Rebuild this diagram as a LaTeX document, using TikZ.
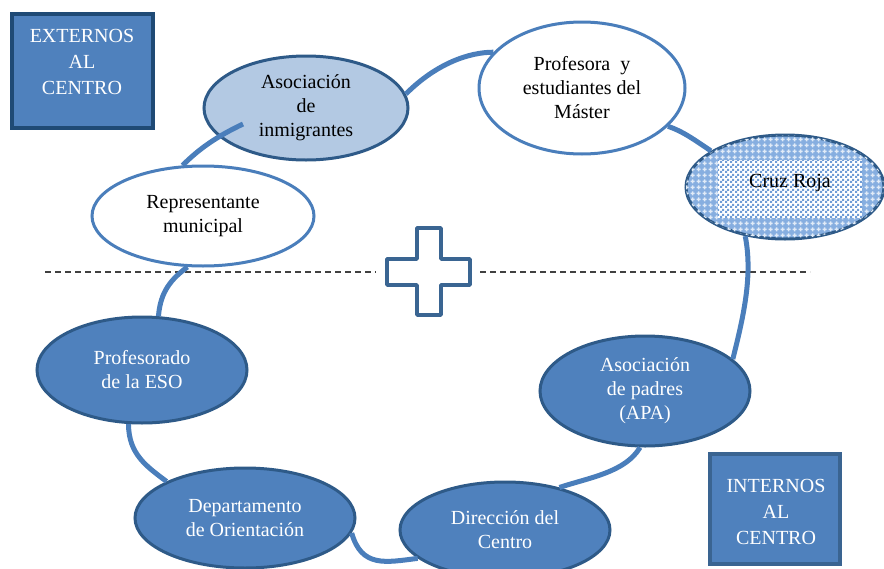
\documentclass[tikz,border=0pt]{standalone}
\usepackage{fontspec}
\setmainfont{Liberation Serif}
\usetikzlibrary{shapes.geometric,patterns,patterns.meta,calc}
\definecolor{midblue}{HTML}{4F81BD}
\definecolor{darkblue}{HTML}{2E5A88}
\definecolor{linkblue}{HTML}{4A7EBB}
\definecolor{lightblue}{HTML}{B3C9E3}
\definecolor{extborder}{HTML}{1F4A75}
\definecolor{intborder}{HTML}{3A6491}
\definecolor{crossblue}{HTML}{3A6592}
\definecolor{patblue}{HTML}{86AEE0}
\definecolor{checkblue}{HTML}{6F9CD6}
\definecolor{dashgray}{HTML}{404040}
\tikzdeclarepattern{
  name=smallcheck, type=uncolored,
  bounding box={(0pt,0pt) and (5pt,5pt)},
  tile size={(5pt,5pt)},
  code={\fill (0pt,0pt) rectangle (2.5pt,2.5pt); \fill (2.5pt,2.5pt) rectangle (5pt,5pt);}
}
\tikzdeclarepattern{
  name=plusdots, type=uncolored,
  bounding box={(0pt,0pt) and (6pt,6pt)},
  tile size={(6pt,6pt)},
  code={\fill (2.2pt,0.6pt) rectangle (3.8pt,5.4pt); \fill (0.6pt,2.2pt) rectangle (5.4pt,3.8pt);}
}
\begin{document}
\begin{tikzpicture}[x=1pt,y=-1pt,
  every node/.style={font=\fontsize{20}{24}\selectfont},
  ell/.style={ellipse, inner sep=0pt, align=center, line width=3pt},
  darkell/.style={ell, draw=darkblue, fill=midblue, text=white},
  whiteell/.style={ell, draw=linkblue, fill=white, text=black},
  link/.style={draw=linkblue, line width=5pt},
  boxtxt/.style={align=center, text=white, font=\fontsize{20}{26}\selectfont},
]
\useasboundingbox (0,0) rectangle (884,568);

% legend boxes
\node[draw=extborder, fill=midblue, line width=4pt, minimum width=141pt, minimum height=114pt, inner sep=0pt] (ext) at (82.5,71) {};
\node[boxtxt] (exttxt) at (82,62) {EXTERNOS\\AL\\CENTRO};
\node[draw=intborder, fill=midblue, line width=4pt, minimum width=130pt, minimum height=110pt, inner sep=0pt] (int) at (775,509) {};
\node[boxtxt] (inttxt) at (776,512) {INTERNOS\\AL\hspace*{16pt}\\CENTRO};

% dashed separator and cross
\draw[dashgray, line width=1.2pt, dash pattern=on 6pt off 4pt] (45,272) -- (376,272);
\draw[dashgray, line width=1.2pt, dash pattern=on 6pt off 4pt] (480,272) -- (810,272);
\draw[crossblue, fill=white, line width=3.5pt, line join=round]
  (417,228) -- (441,228) -- (441,259) -- (470,259) -- (470,285) -- (441,285)
  -- (441,315) -- (417,315) -- (417,285) -- (387,285) -- (387,259) -- (417,259) -- cycle;

% ellipses
\node[ell, draw=darkblue, fill=lightblue, text=black, minimum width=204pt, minimum height=104pt] (inm) at (306,108) {Asociaci\'on\\de\\inmigrantes};
\node[whiteell, minimum width=206pt, minimum height=132pt] (prof) at (582,88) {Profesora\ \ y\\estudiantes del\\M\'aster};
\node[ell, draw=darkblue, fill=patblue, minimum width=198pt, minimum height=104pt,
  postaction={pattern=plusdots, pattern color=white!75!patblue}] (cruz) at (785,187) {};
\node[fill=white, inner sep=0pt, minimum width=144pt, minimum height=58pt,
  postaction={pattern=smallcheck, pattern color=checkblue}] (cruzin) at (790,189) {};
\node[text=black] (cruztxt) at (790,183) {Cruz Roja};
\node[whiteell, minimum width=222pt, minimum height=100pt] (rep) at (203,216) {Representante\\municipal};
\node[darkell, minimum width=210pt, minimum height=106pt] (eso) at (142,370) {Profesorado\\de la ESO};
\node[darkell, minimum width=220pt, minimum height=100pt] (dep) at (245,518) {Departamento\\de Orientaci\'on};
\node[darkell, minimum width=210pt, minimum height=96pt] (dir) at (505,530) {Direcci\'on del\\Centro};
\node[darkell, minimum width=210pt, minimum height=110pt] (apa) at (645,391) {Asociaci\'on\\de padres\\(APA)};

% connectors
\coordinate (c1) at (243,124);
\draw[link] (c1) .. controls +(-25,12) and +(18,-18) .. (rep.112);
\draw[link] (inm.8) .. controls +(30,-30) and +(-25,0) .. (prof.158);
\draw[link] (prof.336) .. controls +(15,5) and +(-15,-10) .. (cruz.154);
\draw[link] (cruz.231) .. controls +(8,40) and +(10,-40) .. (apa.20);
\draw[link] (apa.265) .. controls +(-15,25) and +(30,-10) .. (dir.38);
\draw[link] (dep.352) .. controls +(10,35) and +(-32,4) .. (dir.198);
\draw[link] (eso.256) .. controls +(0,30) and +(-20,-15) .. (dep.155);
\draw[link] (eso.73) .. controls +(2,-25) and +(-16,12) .. (rep.253);
\end{tikzpicture}
\end{document}
